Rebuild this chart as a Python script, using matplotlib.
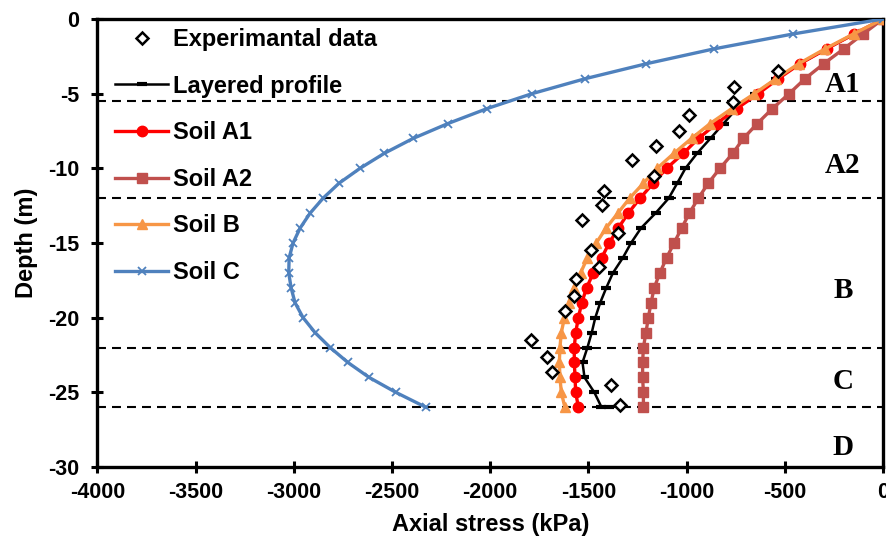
import matplotlib
matplotlib.use("Agg")
import matplotlib.pyplot as plt

# profondeurs des points modèles (m)
depth = [0, -1, -2, -3, -4, -5, -6, -7, -8, -9, -10, -11, -12, -13,
         -14, -15, -16, -17, -18, -19, -20, -21, -22, -23, -24, -25, -26]

# contraintes axiales (kPa)
soil_c = [0, -457, -860, -1206, -1517, -1787, -2016, -2215, -2393, -2540,
          -2663, -2770, -2851, -2917, -2968, -3004, -3024, -3026, -3014,
          -2994, -2953, -2892, -2815, -2725, -2617, -2481, -2328]
soil_a2 = [0, -101, -200, -302, -397, -478, -563, -640, -711, -765, -830,
           -890, -940, -986, -1025, -1064, -1102, -1136, -1165, -1181,
           -1195, -1207, -1220, -1224, -1224, -1220, -1220]
soil_a1 = [0, -146, -287, -423, -533, -635, -745, -847, -940, -1017, -1102,
           -1170, -1237, -1297, -1348, -1394, -1433, -1475, -1509, -1534,
           -1551, -1565, -1572, -1572, -1568, -1565, -1551]
soil_b = [0, -150, -295, -430, -545, -655, -770, -880, -975, -1065, -1150,
          -1220, -1290, -1350, -1410, -1460, -1505, -1540, -1575, -1600,
          -1622, -1638, -1645, -1648, -1645, -1638, -1620]

# profil multicouche (un point en plus en pied)
depth_layered = depth[:-1] + [-25.95, -26]
layered = [0, -146, -287, -423, -545, -650, -745, -812, -879, -947, -1006,
           -1048, -1091, -1158, -1232, -1283, -1325, -1375, -1409, -1440,
           -1465, -1483, -1505, -1530, -1520, -1470, -1435, -1395]

# données expérimentales
exp_depth = [-3.48, -4.53, -5.54, -6.43, -7.48, -8.49, -9.44, -10.5, -11.52,
             -12.46, -13.46, -14.35, -15.47, -16.59, -17.43, -18.55, -19.56,
             -21.5, -22.62, -23.62, -24.51, -25.85]
exp_stress = [-533, -757, -765, -986, -1037, -1156, -1278, -1166, -1421,
              -1432, -1531, -1348, -1488, -1446, -1563, -1573, -1619, -1792,
              -1712, -1687, -1385, -1339]

# limites de couches et étiquettes
boundaries = [-5.5, -12, -22, -26]
layer_names = ["A1", "A2", "B", "C", "D"]
layer_y = [-4.4, -9.8, -18.15, -24.3, -28.7]

plt.rcParams['font.family'] = ['Liberation Sans', 'DejaVu Sans']
plt.rcParams['font.weight'] = 'bold'
plt.rcParams['axes.unicode_minus'] = False

fig = plt.figure(figsize=(8.86, 5.38), dpi=100)
ax = fig.add_axes([0.110, 0.132, 0.8866, 0.8327])

for b in boundaries:
    ax.axhline(b, color='black', lw=1.5, dashes=(4.3, 2.9), zorder=1)

ax.plot(layered, depth_layered, color='black', lw=1.8, marker='_', ms=7,
        mew=3, label='Layered profile', zorder=3)
ax.plot(soil_a1, depth, color='#FF0000', lw=2.4, marker='o', ms=7.5,
        label='Soil A1', zorder=4)
ax.plot(soil_a2, depth, color='#C0504D', lw=2.4, marker='s', ms=7,
        label='Soil A2', zorder=5)
ax.plot(soil_b, depth, color='#F79646', lw=2.4, marker='^', ms=7,
        label='Soil B', zorder=6)
ax.plot(soil_c, depth, color='#4F81BD', lw=2.4, marker='x', ms=5.5, mew=1.3,
        label='Soil C', zorder=7)
ax.plot(exp_stress, exp_depth, ls='none', marker='D', ms=6,
        mfc='white', mec='black', mew=1.8, label='Experimantal data',
        zorder=8)

for name, y in zip(layer_names, layer_y):
    ax.text(-204, y, name, ha='center', va='center', fontsize=21,
            family='Liberation Serif', weight='bold')

ax.set_xlim(-4000, 0)
ax.set_ylim(-30, 0)
ax.set_xticks(range(-4000, 1, 500))
ax.set_yticks(range(-30, 1, 5))
for s in ax.spines.values():
    s.set_linewidth(2.4)
ax.tick_params(axis='both', direction='inout', length=8, width=2.2,
               labelsize=15.5)
ax.tick_params(axis='x', pad=7)
ax.tick_params(axis='y', pad=9)

ax.set_xlabel('Axial stress (kPa)', fontsize=17, weight='bold', labelpad=7)
ax.set_ylabel('Depth (m)', fontsize=17, weight='bold', labelpad=7)

handles, labels = ax.get_legend_handles_labels()
order = [5, 0, 1, 2, 3, 4]
ax.legend([handles[i] for i in order], [labels[i] for i in order],
          loc='upper left', bbox_to_anchor=(0.0223, 0.98), frameon=False,
          fontsize=17, labelspacing=1.0, handlelength=2.25,
          handletextpad=0.21, borderaxespad=0, borderpad=0)

fig.savefig('out.png', dpi=100)
